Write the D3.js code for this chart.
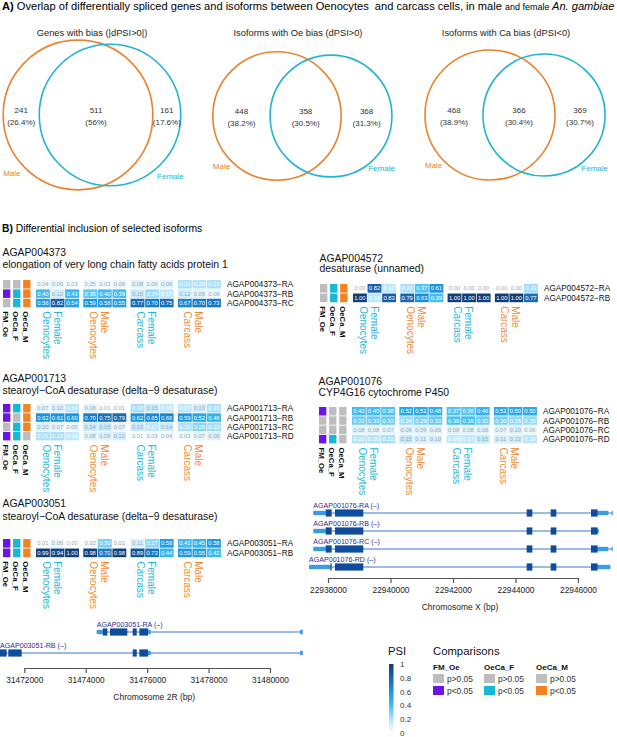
<!DOCTYPE html>
<html><head><meta charset="utf-8">
<script src="https://cdn.jsdelivr.net/npm/d3@7"></script>
<style>body{margin:0;background:#fff} svg{display:block;font-family:"Liberation Sans",Arial,Helvetica,sans-serif}</style>
</head><body><svg id="c" width="617" height="737"></svg>
<script>
// ---------------- DATA ----------------
const vennTitles = ["Genes with bias (|dPSI>0|)", "Isoforms with Oe bias (dPSI>0)", "Isoforms with Ca bias (dPSI<0)"];
const vennMaleOnly = [241, 448, 468];
const vennShared = [511, 358, 366];
const vennFemaleOnly = [161, 368, 369];
const setNames = ["Male", "Female"];

const geneIds = ["AGAP004373", "AGAP004572", "AGAP001713", "AGAP001076", "AGAP003051"];
const geneDescs = ["elongation of very long chain fatty acids protein 1", "desaturase (unnamed)",
  "stearoyl\u2212CoA desaturase (delta\u22129 desaturase)", "CYP4G16 cytochrome P450",
  "stearoyl\u2212CoA desaturase (delta\u22129 desaturase)"];
const sampleSex = ["Female", "Male", "Female", "Male"];
const sampleTissue = ["Oenocytes", "Oenocytes", "Carcass", "Carcass"];
const comparisons = ["FM_Oe", "OeCa_F", "OeCa_M"];

const iso_AGAP004373 = ["RA", "RB", "RC"];
const psi_AGAP004373 = [
  [0.04,0.06,0.03, 0.05,0.03,0.06, 0.08,0.06,0.08, 0.21,0.20,0.21],
  [0.40,0.12,0.43, 0.35,0.40,0.39, 0.15,0.24,0.17, 0.12,0.09,0.06],
  [0.56,0.82,0.54, 0.59,0.58,0.55, 0.77,0.70,0.75, 0.67,0.70,0.73]];
const sig_AGAP004373 = [[0,0,1],[1,1,1],[0,1,1]];

const iso_AGAP004572 = ["RA", "RB"];
const psi_AGAP004572 = [
  [0.00,0.82,0.17, 0.21,0.37,0.61, 0.00,0.00,0.00, 0.00,0.00,0.23],
  [1.00,0.18,0.83, 0.79,0.63,0.39, 1.00,1.00,1.00, 1.00,1.00,0.77]];
const sig_AGAP004572 = [[0,1,1],[0,1,1]];

const iso_AGAP001713 = ["RA", "RB", "RC", "RD"];
const psi_AGAP001713 = [
  [0.07,0.10,0.19, 0.08,0.01,0.01, 0.22,0.15,0.16, 0.17,0.13,0.22],
  [0.62,0.61,0.60, 0.70,0.75,0.79, 0.62,0.65,0.66, 0.59,0.52,0.46],
  [0.10,0.07,0.05, 0.14,0.15,0.07, 0.15,0.17,0.14, 0.21,0.28,0.23],
  [0.21,0.22,0.16, 0.08,0.09,0.12, 0.01,0.03,0.04, 0.03,0.07,0.09]];
const sig_AGAP001713 = [[1,1,1],[1,0,1],[0,1,1],[1,1,0]];

const iso_AGAP001076 = ["RA", "RB", "RC", "RD"];
const psi_AGAP001076 = [
  [0.40,0.40,0.38, 0.52,0.51,0.48, 0.37,0.36,0.46, 0.51,0.50,0.50],
  [0.32,0.33,0.32, 0.24,0.29,0.33, 0.38,0.39,0.32, 0.30,0.26,0.25],
  [0.08,0.08,0.07, 0.09,0.09,0.09, 0.09,0.08,0.08, 0.07,0.10,0.06],
  [0.20,0.20,0.22, 0.15,0.11,0.10, 0.16,0.17,0.15, 0.11,0.12,0.19]];
const sig_AGAP001076 = [[1,0,0],[0,0,0],[0,0,0],[1,1,0]];

const iso_AGAP003051 = ["RA", "RB"];
const psi_AGAP003051 = [
  [0.01,0.06,0.00, 0.02,0.30,0.02, 0.11,0.27,0.56, 0.41,0.45,0.58],
  [0.99,0.94,1.00, 0.98,0.70,0.98, 0.89,0.73,0.44, 0.59,0.55,0.42]];
const sig_AGAP003051 = [[1,1,1],[1,1,1]];

// gene models (bp)
const txX = ["AGAP001076-RA", "AGAP001076-RB", "AGAP001076-RC", "AGAP001076-RD"];
const txX_span = [[22937530,22947099],[22937530,22946660],[22937530,22947099],[22937392,22947035]];
const txX_cds = [
  [[22937926,22938118],[22938224,22939130],[22944357,22944539],[22945125,22945307],[22946416,22946629]],
  [[22937926,22938118],[22938224,22939130],[22944357,22944539],[22945125,22945307],[22946416,22946629]],
  [[22937926,22938118],[22938224,22939130],[22944357,22944539],[22945125,22945307],[22946416,22946629]],
  [[22938075,22938118],[22938224,22939130],[22944357,22944539],[22945125,22945307],[22946416,22946629]]];
const txX_utr = [
  [[22937530,22937926],[22946629,22946971],[22947075,22947099]],
  [[22937530,22937926],[22946629,22946660]],
  [[22937530,22937926],[22946629,22946971],[22947075,22947099]],
  [[22937392,22938075],[22946629,22947035]]];
const ticksX = [22938000, 22940000, 22942000, 22944000, 22946000];

const tx2R = ["AGAP003051-RA", "AGAP003051-RB"];
const tx2R_span = [[31474358,31481068],[31471100,31481068]];
const tx2R_cds = [
  [[31474553,31474704],[31474791,31475355],[31475530,31475661],[31475746,31476029]],
  [[31471100,31471426],[31471479,31471914],[31475530,31475661],[31475746,31476029]]];
const tx2R_utr = [
  [[31474358,31474553],[31476029,31476117],[31480980,31481068]],
  [[31476029,31476117],[31480980,31481068]]];
const ticks2R = [31472000, 31474000, 31476000, 31478000, 31480000];

const psiTicks = [0, 0.2, 0.4, 0.6, 0.8, 1];
const sigLevels = ["p>0.05", "p<0.05"];

// ---------------- STYLE ----------------
const ORANGE = "#e9832f", CYAN = "#22b3d0", PURPLE = "#6b14e3", GRAY = "#bdbdbd";
const SIGCOL = [PURPLE, "#17b8d6", "#f5821f"];
const SEXCOL = {Female: "#22b5d4", Male: "#ef8a2e"};
const psiColor = d3.scaleLinear().domain([0, 0.2, 0.4, 0.6, 0.8, 1])
  .range(["#ffffff", "#b3e3f9", "#3fbdf0", "#1996e0", "#1a64ad", "#103e78"]).clamp(true);

const svg = d3.select("#c");

// ---------------- TITLES ----------------
const tA = svg.append("text").attr("x", 2).attr("y", 10).attr("font-size", 11.1).style("white-space", "pre");
tA.append("tspan").attr("font-weight", "bold").text("A)");
tA.append("tspan").text(" Overlap of differentially spliced genes and isoforms between Oenocytes  and carcass cells, in male ");
tA.append("tspan").attr("font-size", 9).text("and female ");
tA.append("tspan").attr("font-style", "italic").text("An. gambiae");

const tB = svg.append("text").attr("x", 2).attr("y", 232).attr("font-size", 10.3);
tB.append("tspan").attr("font-weight", "bold").text("B)");
tB.append("tspan").text(" Differential inclusion of selected isoforms");

// ---------------- VENN ----------------
const vennLayout = [
  {mx: 78, fx: 110, cy: 115, r1000: 86.3, tx: 92},
  {mx: 277, fx: 331, cy: 116, r1000: 71.5, tx: 298},
  {mx: 490, fx: 544, cy: 115, r1000: 71.2, tx: 506}];
const pctFmt = d3.format(".3~r");
vennTitles.forEach((title, i) => {
  const L = vennLayout[i];
  const mN = vennMaleOnly[i] + vennShared[i], fN = vennFemaleOnly[i] + vennShared[i];
  const total = vennMaleOnly[i] + vennShared[i] + vennFemaleOnly[i];
  const rs = d3.scaleSqrt().domain([0, 1000]).range([0, L.r1000]);
  const rm = rs(mN), rf = rs(fN);
  const g = svg.append("g");
  g.append("text").attr("x", L.tx).attr("y", 36).attr("text-anchor", "middle").attr("font-size", 9.3).attr("fill", "#222").text(title);
  g.append("circle").attr("cx", L.mx).attr("cy", L.cy).attr("r", rm).attr("fill", "none").attr("stroke", ORANGE).attr("stroke-width", 1.6);
  g.append("circle").attr("cx", L.fx).attr("cy", L.cy).attr("r", rf).attr("fill", "none").attr("stroke", CYAN).attr("stroke-width", 1.6);
  const regions = [
    {x: ((L.mx - rm) + (L.fx - rf)) / 2, n: vennMaleOnly[i]},
    {x: ((L.fx - rf) + (L.mx + rm)) / 2, n: vennShared[i]},
    {x: ((L.mx + rm) + (L.fx + rf)) / 2, n: vennFemaleOnly[i]}];
  regions.forEach(r => {
    g.append("text").attr("x", r.x).attr("y", L.cy - 2).attr("text-anchor", "middle").attr("font-size", 8).attr("fill", "#333").text(r.n);
    g.append("text").attr("x", r.x).attr("y", L.cy + 9.5).attr("text-anchor", "middle").attr("font-size", 8).attr("fill", "#333").text("(" + pctFmt(100 * r.n / total) + "%)");
  });
  g.append("text").attr("x", L.mx - rm).attr("y", L.cy + 0.82 * rm).attr("font-size", 8).attr("fill", ORANGE).text(setNames[0]);
  g.append("text").attr("x", L.fx + rf + 3).attr("y", L.cy + 0.91 * rf).attr("text-anchor", "end").attr("font-size", 8).attr("fill", CYAN).text(setNames[1]);
});

// ---------------- HEATMAPS ----------------
const isoByGene = [iso_AGAP004373, iso_AGAP004572, iso_AGAP001713, iso_AGAP001076, iso_AGAP003051];
const psiByGene = [psi_AGAP004373, psi_AGAP004572, psi_AGAP001713, psi_AGAP001076, psi_AGAP003051];
const sigByGene = [sig_AGAP004373, sig_AGAP004572, sig_AGAP001713, sig_AGAP001076, sig_AGAP003051];
const panels = [
  {gene: 0, x0: 3, top: 280, titleY: 256, subY: 268},
  {gene: 1, x0: 320, top: 284, titleY: 262, subY: 272},
  {gene: 2, x0: 3, top: 404, titleY: 382, subY: 394},
  {gene: 3, x0: 319, top: 407, titleY: 385, subY: 396},
  {gene: 4, x0: 3, top: 539, titleY: 507, subY: 520}];

panels.forEach(p => {
  const gid = geneIds[p.gene], iso = isoByGene[p.gene], psi = psiByGene[p.gene], sig = sigByGene[p.gene];
  const g = svg.append("g");
  g.append("text").attr("x", p.x0 - 0.5).attr("y", p.titleY).attr("font-size", 10.4).attr("fill", "#111").text(gid);
  g.append("text").attr("x", p.x0 - 0.5).attr("y", p.subY).attr("font-size", 10.4).attr("fill", "#111").text(geneDescs[p.gene]);
  const y = d3.scaleBand().domain(iso).range([p.top, p.top + iso.length * 9.1]).paddingInner(0.09);
  const gx = d3.scaleBand().domain(d3.range(4)).range([p.x0 + 33, p.x0 + 33 + 184.9]).paddingInner(0.0909);
  const cx = d3.scaleBand().domain(d3.range(3)).range([0, gx.bandwidth()]).paddingInner(0.05);
  const sx = d3.scaleBand().domain(comparisons).range([p.x0, p.x0 + 27.5]).paddingInner(0.27);
  const bottom = p.top + iso.length * 9.1;
  iso.forEach((r, ri) => {
    comparisons.forEach((c, ci) => {
      g.append("rect").attr("x", sx(c)).attr("y", y(r)).attr("width", sx.bandwidth()).attr("height", y.bandwidth())
        .attr("fill", sig[ri][ci] ? SIGCOL[ci] : GRAY);
    });
    psi[ri].forEach((v, k) => {
      const grp = Math.floor(k / 3), sub = k % 3;
      const xx = gx(grp) + cx(sub);
      g.append("rect").attr("x", xx).attr("y", y(r)).attr("width", cx.bandwidth()).attr("height", y.bandwidth()).attr("fill", psiColor(v));
      g.append("text").attr("x", xx + cx.bandwidth() / 2).attr("y", y(r) + y.bandwidth() / 2 + 2)
        .attr("text-anchor", "middle").attr("font-size", 5.8)
        .attr("fill", v >= 0.16 ? "#ffffff" : "#9fa9b3").text(v.toFixed(2));
    });
    g.append("text").attr("x", p.x0 + 224).attr("y", y(r) + y.bandwidth() / 2 + 3).attr("font-size", 8.2).attr("fill", "#111")
      .text(gid + "\u2212" + r);
  });
  comparisons.forEach(c => {
    g.append("text").attr("transform", `translate(${sx(c) + sx.bandwidth() / 2 - 1},${bottom + 4}) rotate(90)`)
      .attr("dominant-baseline", "central").attr("font-size", 7.8).attr("font-weight", "bold").attr("fill", "#111").text(c);
  });
  d3.range(4).forEach(grp => {
    const mid = gx(grp) + cx(1) + cx.bandwidth() / 2;
    g.append("text").attr("transform", `translate(${mid - 0.5},${bottom + 4}) rotate(90)`)
      .attr("dominant-baseline", "central").attr("font-size", 10).attr("fill", SEXCOL[sampleSex[grp]]).text(sampleSex[grp]);
    g.append("text").attr("transform", `translate(${mid - 11.5},${bottom + 4}) rotate(90)`)
      .attr("dominant-baseline", "central").attr("font-size", 10).attr("fill", SEXCOL[sampleSex[grp]]).text(sampleTissue[grp]);
  });
});

// ---------------- GENE MODELS ----------------
function drawModel(names, spans, cds, utr, lineYs, scale, ticks, axisY, title) {
  const g = svg.append("g");
  names.forEach((n, i) => {
    const ly = lineYs[i];
    g.append("line").attr("x1", scale(spans[i][0])).attr("x2", scale(spans[i][1])).attr("y1", ly).attr("y2", ly)
      .attr("stroke", "#3a78c8").attr("stroke-width", 1);
    utr[i].forEach(e => g.append("rect").attr("x", scale(e[0])).attr("width", Math.max(1.2, scale(e[1]) - scale(e[0])))
      .attr("y", ly - 2.2).attr("height", 4.4).attr("fill", "#3d9be6"));
    cds[i].forEach(e => g.append("rect").attr("x", scale(e[0])).attr("width", Math.max(1.2, scale(e[1]) - scale(e[0])))
      .attr("y", ly - 3.6).attr("height", 7.2).attr("fill", "#0f4c9c"));
    g.append("text").attr("x", Math.max(0, scale(spans[i][0]))).attr("y", ly - 5).attr("font-size", 7.1).attr("fill", "#2d2d91")
      .text(n + " (\u2013)");
  });
  const ax = g.append("g").attr("transform", `translate(0,${axisY})`)
    .call(d3.axisBottom(scale).tickValues(ticks).tickFormat(d3.format("d")).tickSize(5).tickSizeOuter(0));
  ax.select(".domain").attr("stroke", "#555").attr("stroke-width", 1.2);
  ax.selectAll(".tick line").attr("stroke", "#555").attr("stroke-width", 1.2);
  ax.selectAll(".tick text").attr("font-size", 8.3).attr("fill", "#222").attr("font-family", null).attr("dy", "0.9em");
  const r = scale.range();
  g.append("text").attr("x", (r[0] + r[1]) / 2 + 7).attr("y", axisY + 32).attr("text-anchor", "middle").attr("font-size", 8.5).attr("fill", "#222").text(title);
}
drawModel(txX, txX_span, txX_cds, txX_utr, [513, 531, 549, 567],
  d3.scaleLinear().domain([22938000, 22946000]).range([328, 578]), ticksX, 578, "Chromosome X (bp)");
drawModel(tx2R, tx2R_span, tx2R_cds, tx2R_utr, [632, 653],
  d3.scaleLinear().domain([31472000, 31480000]).range([24.3, 270]), ticks2R, 668, "Chromosome 2R (bp)");

// ---------------- LEGEND ----------------
const lg = svg.append("g");
lg.append("text").attr("x", 388).attr("y", 655).attr("font-size", 11.3).attr("fill", "#111").text("PSI");
const defs = svg.append("defs");
const grad = defs.append("linearGradient").attr("id", "psiGrad").attr("x1", 0).attr("x2", 0).attr("y1", 1).attr("y2", 0);
d3.range(0, 1.0001, 0.1).forEach(t => grad.append("stop").attr("offset", t).attr("stop-color", psiColor(t)));
const ly = d3.scaleLinear().domain([0, 1]).range([733, 664]);
lg.append("rect").attr("x", 389).attr("y", ly(1)).attr("width", 4.5).attr("height", ly(0) - ly(1)).attr("fill", "url(#psiGrad)");
psiTicks.forEach(t => lg.append("text").attr("x", 400).attr("y", ly(t) + 3).attr("font-size", 8).attr("fill", "#333").text(t === 0 || t === 1 ? String(t) : t.toFixed(1)));
lg.append("text").attr("x", 433).attr("y", 655).attr("font-size", 11.3).attr("fill", "#111").text("Comparisons");
const lgx = [433, 484, 536];
comparisons.forEach((c, i) => {
  lg.append("text").attr("x", lgx[i]).attr("y", 670).attr("font-size", 8).attr("font-weight", "bold").attr("fill", "#111").text(c);
  sigLevels.forEach((s, j) => {
    const yy = 674 + j * 12;
    lg.append("rect").attr("x", lgx[i]).attr("y", yy).attr("width", 11).attr("height", 9).attr("fill", j ? SIGCOL[i] : GRAY);
    lg.append("text").attr("x", lgx[i] + 14).attr("y", yy + 7.5).attr("font-size", 8.4).attr("fill", "#333").text(s);
  });
});
</script></body></html>
